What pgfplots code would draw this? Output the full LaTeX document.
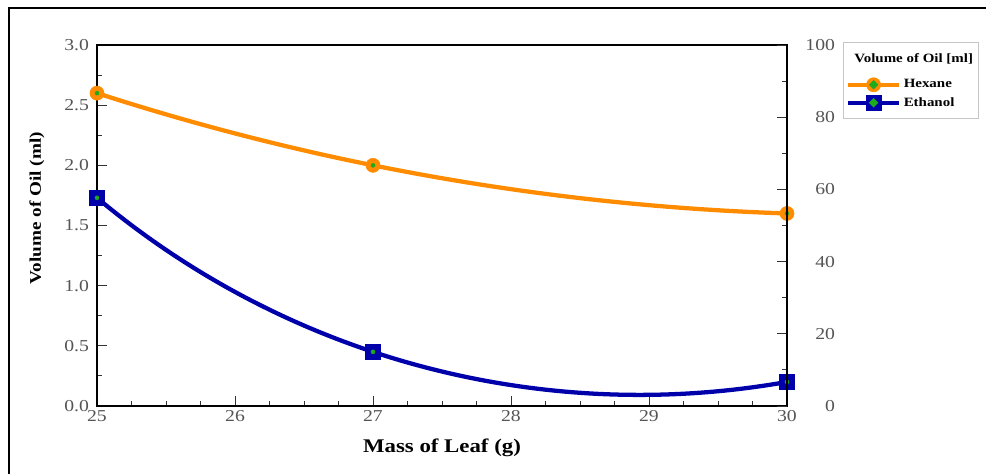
\documentclass[border=0pt]{standalone}
\usepackage{pgfplots}
\pgfplotsset{compat=1.18}
\usetikzlibrary{hobby}
\usepackage{fontspec}
\setmainfont[FakeStretch=1.18]{Liberation Serif}
\definecolor{hex}{RGB}{255,140,0}
\definecolor{eth}{RGB}{0,0,170}
\definecolor{dotg}{RGB}{30,170,30}
\definecolor{tickgray}{RGB}{85,85,85}
\begin{document}
\begin{tikzpicture}[x=0.75pt,y=0.75pt]
\useasboundingbox (0,0) rectangle (986,474);
\draw[line width=1.5pt] (8.5,0) -- (8.5,465.5) -- (986,465.5);
\begin{axis}[
  at={(97*0.75pt,68*0.75pt)}, anchor=south west,
  scale only axis, width=517.5pt, height=270.75pt,
  xmin=25, xmax=30, ymin=0, ymax=3,
  xtick pos=bottom, ytick pos=left,
  axis line style={line width=2.2pt},
  xtick={25,26,...,30}, ytick={0,0.5,...,3},
  minor x tick num=3, minor y tick num=1,
  tick align=inside,
  major tick length=7.5pt, minor tick length=4pt,
  every tick/.style={black!80, line width=0.7pt},
  /pgf/number format/fixed, /pgf/number format/fixed zerofill,
  /pgf/number format/precision=1,
  /pgf/number format/assume math mode=true,
  xticklabel style={font=\fontsize{12.5}{13}\selectfont, text=tickgray},
  yticklabel style={font=\fontsize{12.5}{13}\selectfont, text=tickgray, xshift=-2.5pt},
  xticklabel={\pgfmathprintnumber[precision=0]{\tick}},
  xlabel={\textbf{Mass of Leaf (g)}}, ylabel={\textbf{Volume of Oil (ml)}},
  xlabel style={font=\fontsize{14.5}{16}\selectfont, at={(axis description cs:0.5,-0.116)}, anchor=center},
  ylabel style={font=\fontsize{12.2}{14}\selectfont, at={(axis description cs:-0.087,0.548)}, anchor=center},
  clip=false,
  legend style={at={(1.081,1.008)}, anchor=north west, draw=gray!45, line width=0.9pt,
    font=\fontsize{9.5}{10}\selectfont\bfseries, row sep=1.5pt, inner xsep=2pt, inner ysep=6pt,
    /tikz/every even column/.append style={column sep=3pt}},
  legend cell align=left,
  legend image code/.code={
    \draw[#1, mark repeat=2, mark phase=2] plot coordinates {(0pt,0pt) (19pt,0pt) (38pt,0pt)};
    \fill[dotg] (19pt,0pt) circle (1.3pt);},
]
\addlegendimage{empty legend}
\addlegendentry{\hspace{-37pt}\raisebox{6pt}{Volume of Oil [ml]}\hspace{14pt}}
\addplot[hex, line width=3.2pt, hobby, mark=*, mark size=5.25pt,
  mark options={fill=hex, draw=hex, line width=0.5pt}]
  coordinates {(25,2.6) (27,2.0) (30,1.6)};
\addlegendentry{Hexane}
\addplot[eth, line width=3.2pt, hobby, mark=square*, mark size=5.5pt,
  mark options={fill=eth, draw=eth, line width=0.5pt}]
  coordinates {(25,1.73) (27,0.45) (30,0.2)};
\addlegendentry{Ethanol}
\addplot[only marks, mark=*, mark size=1.5pt, dotg, forget plot]
  coordinates {(25,2.6) (27,2.0) (30,1.6) (25,1.73) (27,0.45) (30,0.2)};
\end{axis}
\begin{axis}[
  at={(97*0.75pt,68*0.75pt)}, anchor=south west,
  scale only axis, width=517.5pt, height=270.75pt,
  xmin=25, xmax=30, ymin=0, ymax=100,
  axis y line*=right, axis x line=none,
  axis line style={line width=2.2pt},
  ytick={0,20,...,100}, minor y tick num=1,
  tick align=inside,
  major tick length=7.5pt, minor tick length=4pt,
  every tick/.style={black!80, line width=0.7pt},
  /pgf/number format/assume math mode=true,
  yticklabel style={font=\fontsize{12.5}{13}\selectfont, text=tickgray, anchor=east, xshift=39.5pt},
]
\end{axis}
\end{tikzpicture}
\end{document}
